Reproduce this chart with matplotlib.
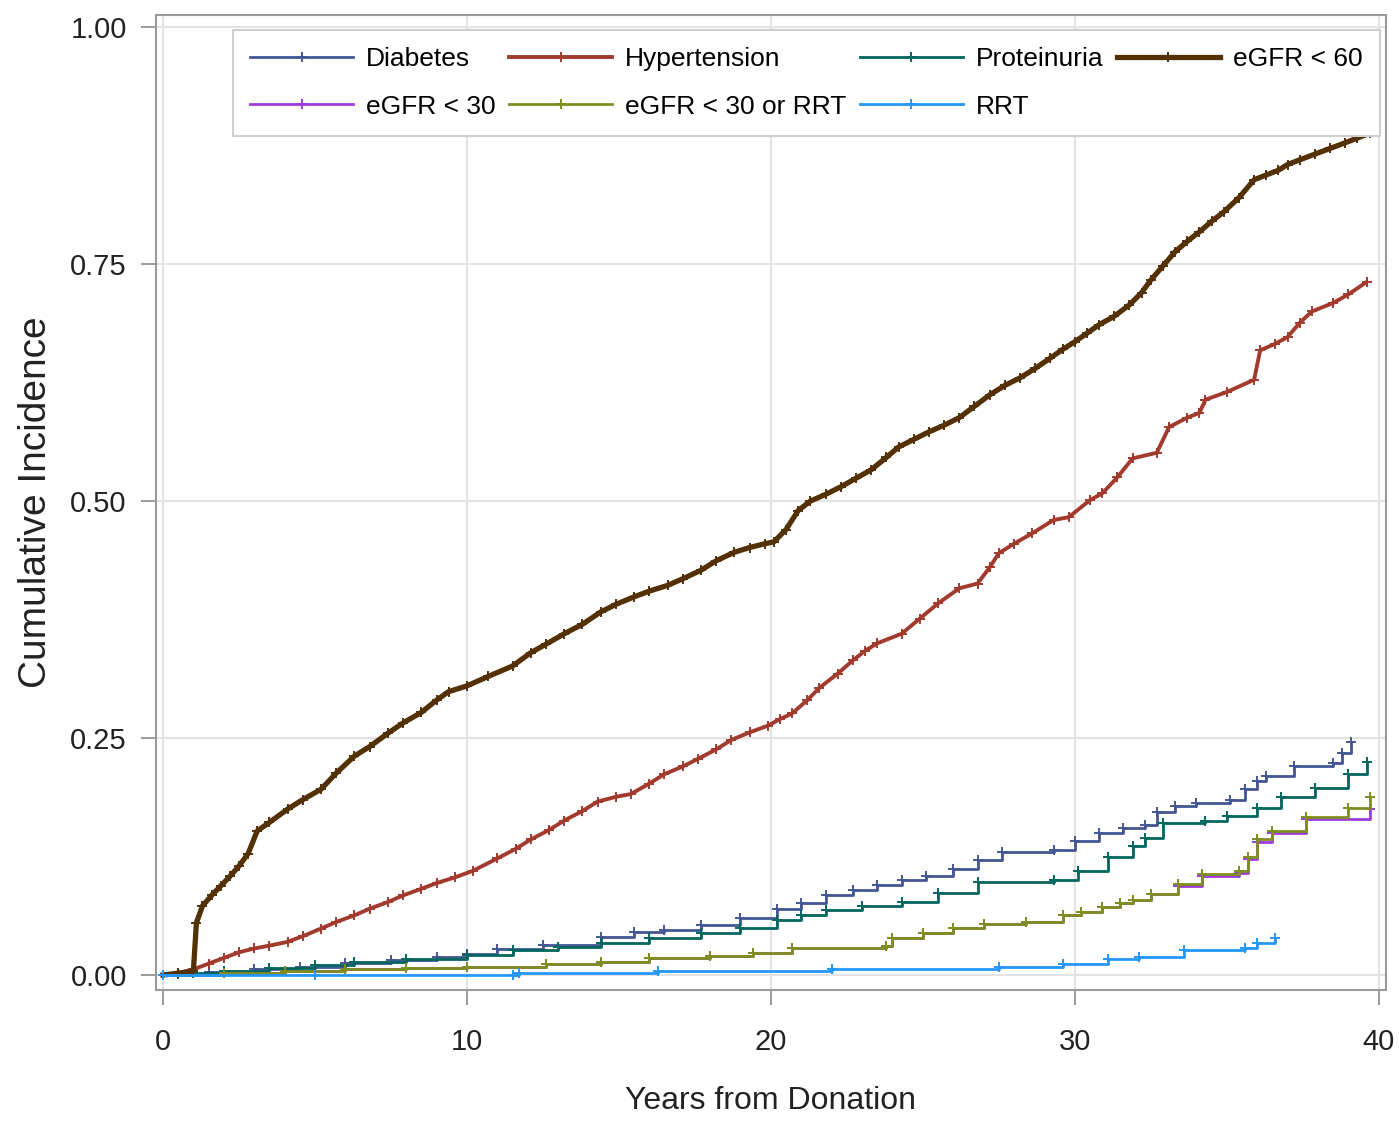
import matplotlib

matplotlib.use("Agg")
import matplotlib.pyplot as plt

FONT = ["Liberation Sans", "DejaVu Sans"]

# cumulative incidence curves (years, incidence)
diabetes_t = [0, 0.5, 1.5, 3.0, 4.5, 6.0, 7.5, 9.0, 10.0, 11.0, 12.5, 14.4,
              15.5, 16.5, 17.7, 19.0, 20.2, 21.0, 21.8, 22.7, 23.5, 24.3,
              25.1, 26.0, 26.8, 27.6, 29.3, 30.0, 30.8, 31.6, 32.3, 32.7,
              33.3, 34.0, 35.1, 35.6, 36.0, 36.3, 37.2, 38.5, 38.8, 39.1]
diabetes_v = [0, 0.001, 0.003, 0.006, 0.009, 0.013, 0.016, 0.019, 0.022,
              0.027, 0.032, 0.040, 0.045, 0.048, 0.053, 0.060, 0.070, 0.076,
              0.084, 0.090, 0.095, 0.100, 0.104, 0.112, 0.121, 0.130, 0.132,
              0.141, 0.150, 0.155, 0.158, 0.172, 0.178, 0.181, 0.185, 0.196,
              0.205, 0.210, 0.221, 0.224, 0.234, 0.246]

hyper_t = [0, 0.5, 1.0, 1.5, 2.0, 2.5, 3.0, 3.5, 4.1, 4.6, 5.2, 5.7, 6.3,
           6.8, 7.4, 7.9, 8.5, 9.0, 9.6, 10.2, 11.0, 11.6, 12.1, 12.7, 13.2,
           13.8, 14.3, 14.9, 15.4, 16.0, 16.5, 17.1, 17.6, 18.2, 18.7, 19.3,
           19.9, 20.3, 20.7, 21.2, 21.6, 22.2, 22.7, 23.1, 23.5, 24.3, 24.9,
           25.5, 26.2, 26.8, 27.2, 27.5, 28.0, 28.6, 29.3, 29.8, 30.5, 30.9,
           31.4, 31.9, 32.7, 33.1, 33.7, 34.1, 34.3, 35.0, 35.9, 36.1, 36.6,
           37.0, 37.4, 37.8, 38.5, 39.0, 39.6]
hyper_v = [0, 0.002, 0.006, 0.012, 0.018, 0.024, 0.028, 0.031, 0.035, 0.041,
           0.049, 0.056, 0.063, 0.070, 0.077, 0.084, 0.091, 0.097, 0.103,
           0.110, 0.123, 0.133, 0.143, 0.153, 0.163, 0.173, 0.183, 0.188,
           0.191, 0.202, 0.212, 0.220, 0.228, 0.238, 0.248, 0.256, 0.263,
           0.270, 0.276, 0.290, 0.303, 0.318, 0.332, 0.342, 0.350, 0.360,
           0.376, 0.392, 0.408, 0.413, 0.430, 0.445, 0.455, 0.466, 0.480,
           0.483, 0.501, 0.508, 0.525, 0.545, 0.551, 0.578, 0.588, 0.593,
           0.607, 0.615, 0.628, 0.659, 0.666, 0.673, 0.688, 0.700, 0.709,
           0.718, 0.731]

protein_t = [0, 1.0, 2.0, 3.5, 5.0, 6.3, 8.0, 10.0, 11.5, 13.0, 14.4, 16.0,
             17.7, 19.0, 20.2, 21.0, 21.8, 23.0, 24.3, 25.5, 26.8, 29.3,
             30.1, 31.1, 31.9, 32.3, 32.9, 34.3, 35.0, 36.0, 36.8, 37.9,
             39.0, 39.6]
protein_v = [0, 0.002, 0.004, 0.007, 0.011, 0.014, 0.017, 0.021, 0.026,
             0.030, 0.034, 0.039, 0.044, 0.050, 0.058, 0.063, 0.069, 0.073,
             0.077, 0.087, 0.098, 0.100, 0.110, 0.125, 0.136, 0.145, 0.160,
             0.163, 0.168, 0.176, 0.188, 0.197, 0.212, 0.225]

egfr60_t = [0, 0.5, 1.0, 1.1, 1.3, 1.6, 1.9, 2.2, 2.5, 2.8, 3.1, 3.5, 4.1,
            4.6, 5.2, 5.7, 6.3, 6.8, 7.4, 7.9, 8.5, 9.0, 9.4, 10.0, 10.7,
            11.5, 12.1, 12.6, 13.2, 13.8, 14.4, 14.9, 15.5, 16.0, 16.6, 17.1,
            17.7, 18.2, 18.8, 19.3, 19.8, 20.1, 20.5, 20.9, 21.3, 21.8, 22.3,
            22.8, 23.3, 23.8, 24.2, 24.7, 25.2, 25.7, 26.2, 26.7, 27.2, 27.7,
            28.2, 28.7, 29.2, 29.6, 30.0, 30.4, 30.8, 31.3, 31.8, 32.2, 32.5,
            32.9, 33.3, 33.7, 34.1, 34.5, 34.9, 35.4, 35.9, 36.3, 36.7, 37.0,
            37.4, 37.9, 38.4, 38.9, 39.3, 39.7]
egfr60_v = [0, 0.002, 0.004, 0.055, 0.073, 0.084, 0.094, 0.104, 0.115, 0.128,
            0.152, 0.161, 0.175, 0.185, 0.196, 0.213, 0.231, 0.241, 0.255,
            0.266, 0.277, 0.290, 0.299, 0.305, 0.315, 0.326, 0.340, 0.349,
            0.360, 0.370, 0.383, 0.391, 0.399, 0.405, 0.411, 0.418, 0.427,
            0.437, 0.446, 0.451, 0.455, 0.457, 0.470, 0.490, 0.500, 0.507,
            0.515, 0.524, 0.533, 0.546, 0.557, 0.565, 0.573, 0.580, 0.588,
            0.600, 0.612, 0.622, 0.630, 0.640, 0.651, 0.660, 0.668, 0.677,
            0.686, 0.695, 0.707, 0.720, 0.733, 0.748, 0.763, 0.774, 0.784,
            0.795, 0.805, 0.820, 0.839, 0.844, 0.849, 0.855, 0.860, 0.866,
            0.872, 0.878, 0.883, 0.888]

egfr30_t = [0, 2.0, 4.0, 6.0, 8.0, 10.0, 12.6, 14.4, 16.0, 18.0, 19.4, 20.7,
            23.8, 24.0, 25.0, 26.0, 27.0, 28.4, 29.6, 30.2, 30.9, 31.5, 31.9,
            32.5, 33.4, 34.2, 35.4, 35.7, 36.0, 36.5, 37.6, 39.7]
egfr30_v = [0, 0.002, 0.004, 0.006, 0.007, 0.009, 0.012, 0.014, 0.018, 0.020,
            0.023, 0.028, 0.031, 0.039, 0.044, 0.050, 0.054, 0.056, 0.063,
            0.066, 0.072, 0.076, 0.079, 0.085, 0.094, 0.104, 0.108, 0.122,
            0.140, 0.150, 0.165, 0.175]

egfr30rrt_t = [0, 2.0, 4.0, 6.0, 8.0, 10.0, 12.6, 14.4, 16.0, 18.0, 19.4,
               20.7, 23.8, 24.0, 25.0, 26.0, 27.0, 28.4, 29.6, 30.2, 30.9,
               31.5, 31.9, 32.5, 33.4, 34.2, 35.4, 35.7, 36.0, 36.5, 37.6,
               39.0, 39.7]
egfr30rrt_v = [0, 0.002, 0.004, 0.006, 0.007, 0.009, 0.012, 0.014, 0.018,
               0.020, 0.023, 0.028, 0.031, 0.039, 0.044, 0.050, 0.054, 0.056,
               0.063, 0.066, 0.072, 0.076, 0.079, 0.085, 0.096, 0.107, 0.110,
               0.125, 0.143, 0.152, 0.167, 0.176, 0.188]

rrt_t = [0, 5.0, 11.5, 11.7, 16.3, 22.0, 27.5, 29.6, 31.1, 32.1, 33.6, 35.6,
         36.0, 36.6]
rrt_v = [0, 0.0, 0.0, 0.002, 0.004, 0.006, 0.009, 0.012, 0.017, 0.019, 0.026,
         0.029, 0.034, 0.039]

# name, times, values, colour, line width, drawstyle
series = [
    ("Diabetes", diabetes_t, diabetes_v, "#445694", 2.0, "steps-post"),
    ("Hypertension", hyper_t, hyper_v, "#A23A2E", 2.8, "default"),
    ("Proteinuria", protein_t, protein_v, "#01665E", 2.0, "steps-post"),
    ("eGFR < 60", egfr60_t, egfr60_v, "#543005", 3.8, "default"),
    ("eGFR < 30", egfr30_t, egfr30_v, "#9D3CDB", 2.0, "steps-post"),
    ("eGFR < 30 or RRT", egfr30rrt_t, egfr30rrt_v, "#7F8E1F", 2.0, "steps-post"),
    ("RRT", rrt_t, rrt_v, "#2597FA", 2.0, "steps-post"),
]

x_ticks = [0, 10, 20, 30, 40]
y_ticks = [0.0, 0.25, 0.50, 0.75, 1.00]


def plot():
    fig = plt.figure(figsize=(13.99, 11.24), dpi=100)
    ax = fig.add_axes([0.1115, 0.1192, 0.879, 0.8674])

    handles = {}
    for name, t, v, color, lw, ds in series:
        (line,) = ax.plot(
            t, v, drawstyle=ds, color=color, lw=lw,
            marker="+", markersize=7, markeredgewidth=1.4, label=name,
        )
        handles[name] = line

    ax.set_xlim(-0.23, 40.23)
    ax.set_ylim(-0.0158, 1.0127)
    ax.set_xticks(x_ticks)
    ax.set_xticklabels([str(x) for x in x_ticks], family=FONT, fontsize=21)
    ax.set_yticks(y_ticks)
    ax.set_yticklabels([f"{y:.2f}" for y in y_ticks], family=FONT, fontsize=21)
    ax.tick_params(axis="both", direction="out", length=11, width=1.2,
                   color="#8a8a8a", labelcolor="#222222")
    ax.tick_params(axis="x", pad=16)
    ax.tick_params(axis="y", pad=10)
    ax.grid(True, color="#e3e3e3", lw=1.5)
    ax.set_axisbelow(True)
    for spine in ax.spines.values():
        spine.set_color("#9a9a9a")
        spine.set_linewidth(1.5)

    ax.set_xlabel("Years from Donation", family=FONT, fontsize=23,
                  color="#222222", labelpad=22)
    ax.set_ylabel("Cumulative Incidence", family=FONT, fontsize=28,
                  color="#222222", labelpad=12)

    # legend is filled column-wise, so order entries to read row by row
    order = ["Diabetes", "eGFR < 30", "Hypertension", "eGFR < 30 or RRT",
             "Proteinuria", "RRT", "eGFR < 60"]
    leg = ax.legend(
        [handles[n] for n in order], order, ncol=4, loc="upper left",
        bbox_to_anchor=(0.0626, 0.879, 0.9325, 0.106), mode="expand",
        borderaxespad=0, prop={"family": FONT, "size": 19},
        numpoints=1, handlelength=3.9, handletextpad=0.5, columnspacing=1.0,
        labelspacing=0.9, borderpad=0.65, fancybox=False, framealpha=1,
        edgecolor="#cfcfcf",
    )
    leg.get_frame().set_linewidth(1.5)

    fig.savefig("out.png", dpi=100)


if __name__ == "__main__":
    plot()
